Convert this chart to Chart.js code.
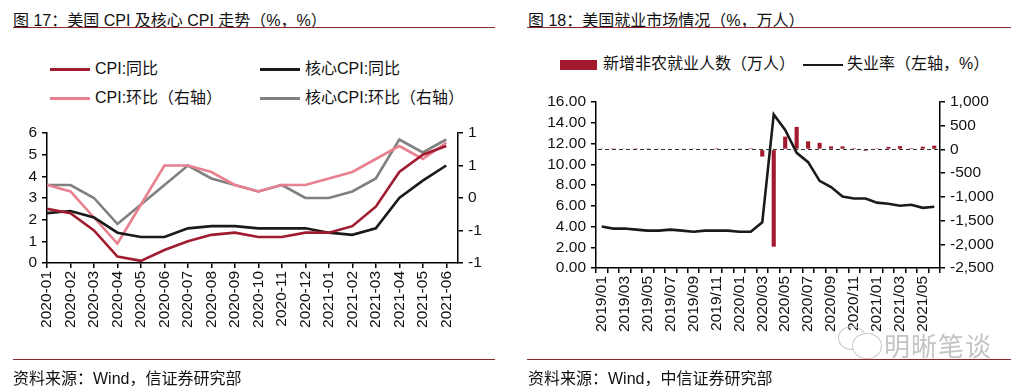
<!DOCTYPE html>
<html>
<head>
<meta charset="utf-8">
<script src="https://cdn.jsdelivr.net/npm/chart.js@4"></script>
<style>
  body { margin: 0; background: #fff; width: 1015px; height: 388px; overflow: hidden; position: relative;
         font-family: 'Liberation Sans', 'Noto Sans CJK SC', sans-serif; color: #111; }
  .abs { position: absolute; white-space: nowrap; }
  .title { font-size: 16px; top: 7px; }
  .rule { position: absolute; height: 1px; background: #8c2a2a; }
  .src { font-size: 16px; top: 365px; }
  .leg { font-size: 16px; line-height: 20px; }
  .sw { display: inline-block; vertical-align: middle; margin-right: 5px; }
  canvas { position: absolute; }
</style>
</head>
<body>
<div class="abs title" style="left:13px">图 17：美国 CPI 及核心 CPI 走势（%，%）</div>
<div class="rule" style="left:13px; width:482px; top:27px"></div>
<div class="abs title" style="left:528px">图 18：美国就业市场情况（%，万人）</div>
<div class="rule" style="left:527px; width:484px; top:27px"></div>

<div id="legendLeft"></div>
<div id="legendRight"></div>

<canvas id="cpiChart" width="500" height="245" style="left:0; top:115px"></canvas>
<canvas id="jobChart" width="510" height="275" style="left:505px; top:85px"></canvas>

<div class="rule" style="left:13px; width:482px; top:359px"></div>
<div class="abs src" style="left:13px">资料来源：Wind，信证券研究部</div>
<div class="rule" style="left:527px; width:484px; top:359px"></div>
<div class="abs src" style="left:528px">资料来源：Wind，中信证券研究部</div>

<!-- watermark -->
<div class="abs" style="left:838px; top:326px; width:26px; height:22px; border:1.5px solid #c8c8c8; border-radius:50%"></div>
<div class="abs" style="left:852px; top:333px; width:28px; height:24px; border:1.5px solid #c8c8c8; border-radius:50%; background:#fff"></div>
<div class="abs" style="left:884px; top:326px; font-size:26px; color:#c4c4c4; letter-spacing:1px">明晰笔谈</div>

<script>
// Chart 17: CPI data
const cpiMonths = ['2020-01','2020-02','2020-03','2020-04','2020-05','2020-06','2020-07','2020-08','2020-09',
                   '2020-10','2020-11','2020-12','2021-01','2021-02','2021-03','2021-04','2021-05','2021-06'];
const cpiYoY  = [2.5, 2.3, 1.5, 0.3, 0.1, 0.6, 1.0, 1.3, 1.4, 1.2, 1.2, 1.4, 1.4, 1.7, 2.6, 4.2, 5.0, 5.4];
const coreYoY = [2.3, 2.4, 2.1, 1.4, 1.2, 1.2, 1.6, 1.7, 1.7, 1.6, 1.6, 1.6, 1.4, 1.3, 1.6, 3.0, 3.8, 4.5];
const cpiMoM  = [0.2, 0.1, -0.3, -0.7, -0.1, 0.5, 0.5, 0.4, 0.2, 0.1, 0.2, 0.2, 0.3, 0.4, 0.6, 0.8, 0.6, 0.85];
const coreMoM = [0.2, 0.2, 0.0, -0.4, -0.1, 0.2, 0.5, 0.3, 0.2, 0.1, 0.2, 0.0, 0.0, 0.1, 0.3, 0.9, 0.7, 0.9];
const cpiNames  = ['CPI:同比', '核心CPI:同比', 'CPI:环比（右轴）', '核心CPI:环比（右轴）'];
const cpiColors = ['#a01b30', '#1a1a1a', '#e8808f', '#808080'];

// Chart 18: jobs data
const jobMonths = ['2019/01','2019/02','2019/03','2019/04','2019/05','2019/06','2019/07','2019/08','2019/09','2019/10',
                   '2019/11','2019/12','2020/01','2020/02','2020/03','2020/04','2020/05','2020/06','2020/07','2020/08',
                   '2020/09','2020/10','2020/11','2020/12','2021/01','2021/02','2021/03','2021/04','2021/05','2021/06'];
const payrolls = [20, 8, 19, 22, 8, 19, 16, 13, 19, 13, 26, 18, 21, 25, -150, -2050, 270, 475, 170, 140,
                  65, 65, 25, -30, 23, 54, 70, 27, 58, 80];
const unemployment = [4.0, 3.8, 3.8, 3.7, 3.6, 3.6, 3.7, 3.6, 3.5, 3.6, 3.6, 3.6, 3.5, 3.5, 4.4, 14.8, 13.3, 11.1, 10.2, 8.4,
                      7.8, 6.9, 6.7, 6.7, 6.3, 6.2, 6.0, 6.1, 5.8, 5.9];
const jobNames = ['新增非农就业人数（万人）', '失业率（左轴，%）'];

Chart.defaults.font.family = "'Liberation Sans', 'Noto Sans CJK SC', sans-serif";
Chart.defaults.color = '#111';
Chart.defaults.animation = false;

// html legends
const legL = document.getElementById('legendLeft');
const legPos = [[50, 59], [260, 59], [50, 88], [260, 88]];
cpiNames.forEach((name, i) => {
    const d = document.createElement('div');
    d.className = 'abs leg';
    d.style.left = legPos[i][0] + 'px';
    d.style.top = legPos[i][1] + 'px';
    d.innerHTML = `<span class="sw" style="width:40px;height:3px;background:${cpiColors[i]}"></span>${name}`;
    legL.appendChild(d);
});
const legR = document.getElementById('legendRight');
[[560, 54, '<span class="sw" style="width:37px;height:10px;background:#a31a2e;margin-right:6px"></span>'],
 [803, 54, '<span class="sw" style="width:40px;height:2.5px;background:#1a1a1a;margin-right:4px"></span>']]
    .forEach((p, i) => {
        const d = document.createElement('div');
        d.className = 'abs leg';
        d.style.left = p[0] + 'px';
        d.style.top = p[1] + 'px';
        d.innerHTML = p[2] + jobNames[i];
        legR.appendChild(d);
    });

const axisFont = { size: 15.5 };
const tickGrid = { drawOnChartArea: false, tickLength: 5, color: '#000', lineWidth: 1.5 };
const blackBorder = { color: '#000', width: 1.5 };

// left chart
const cpiSeries = [cpiYoY, coreYoY, cpiMoM, coreMoM];
new Chart(document.getElementById('cpiChart'), {
    type: 'line',
    data: {
        datasets: cpiSeries.map((arr, k) => ({
            label: cpiNames[k],
            data: arr.map((v, i) => ({ x: i, y: v })),
            yAxisID: k < 2 ? 'y' : 'y1',
            borderColor: cpiColors[k],
            borderWidth: 2.6,
            pointRadius: 0,
            tension: 0
        }))
    },
    options: {
        responsive: false,
        devicePixelRatio: 1,
        layout: { padding: { top: 18, left: 0, right: 0, bottom: 27 } },
        plugins: { legend: { display: false }, tooltip: { enabled: false } },
        scales: {
            x: {
                type: 'linear', min: 0, max: 17.5,
                // one tick per month, the axis runs half a step past the last one
                afterBuildTicks: s => { s.ticks = cpiMonths.map((m, i) => ({ value: i })); },
                afterFit: s => { s.height = 70; },
                ticks: { autoSkip: false, minRotation: 90, maxRotation: 90, padding: 3, font: axisFont,
                         callback: v => cpiMonths[v] ?? '' },
                grid: tickGrid, border: blackBorder
            },
            y: {
                position: 'left', min: 0, max: 6,
                afterFit: s => { s.width = 47; },
                ticks: { stepSize: 1, autoSkip: false, font: axisFont, padding: 5 },
                grid: tickGrid, border: blackBorder
            },
            y1: {
                position: 'right', min: -1, max: 1,
                afterFit: s => { s.width = 42; },
                ticks: { stepSize: 0.5, autoSkip: false, font: axisFont, padding: 5, callback: v => v.toFixed(0) },
                grid: tickGrid, border: blackBorder
            }
        }
    }
});

// dashed zero line for payroll axis
const zeroLine = {
    id: 'zeroLine',
    beforeDatasetsDraw(chart) {
        const { ctx, chartArea } = chart;
        const y = Math.round(chart.scales.y1.getPixelForValue(0)) + 0.5;
        ctx.save();
        ctx.strokeStyle = '#333';
        ctx.lineWidth = 1;
        ctx.setLineDash([4, 3]);
        ctx.beginPath();
        ctx.moveTo(chartArea.left + 2, y);
        ctx.lineTo(chartArea.right, y);
        ctx.stroke();
        ctx.restore();
    }
};

// right chart
new Chart(document.getElementById('jobChart'), {
    type: 'bar',
    data: {
        labels: jobMonths,
        datasets: [
            {
                type: 'line',
                label: jobNames[1],
                data: unemployment,
                yAxisID: 'y',
                borderColor: '#1a1a1a',
                borderWidth: 2.6,
                pointRadius: 0,
                tension: 0,
                order: 0
            },
            {
                type: 'bar',
                label: jobNames[0],
                data: payrolls,
                yAxisID: 'y1',
                backgroundColor: '#a31a2e',
                barPercentage: 0.36,
                categoryPercentage: 1,
                order: 1
            }
        ]
    },
    options: {
        responsive: false,
        devicePixelRatio: 1,
        layout: { padding: { top: 17, left: 0, right: 0, bottom: 20 } },
        plugins: { legend: { display: false }, tooltip: { enabled: false } },
        scales: {
            x: {
                offset: true,
                afterFit: s => { s.height = 72; },
                ticks: { autoSkip: false, minRotation: 90, maxRotation: 90, padding: 3, font: axisFont,
                         callback: (v, i) => i % 2 === 0 ? jobMonths[i] : '' },
                grid: { ...tickGrid, offset: true }, border: blackBorder
            },
            y: {
                position: 'left', min: 0, max: 16,
                afterFit: s => { s.width = 91; },
                ticks: { stepSize: 2, autoSkip: false, font: axisFont, padding: 5, callback: v => v.toFixed(2) },
                grid: tickGrid, border: blackBorder
            },
            y1: {
                position: 'right', min: -2500, max: 1000,
                afterFit: s => { s.width = 75; },
                ticks: { stepSize: 500, autoSkip: false, font: axisFont, padding: 5, callback: v => v.toLocaleString('en-US') },
                grid: tickGrid, border: blackBorder
            }
        }
    },
    plugins: [zeroLine]
});
</script>
</body>
</html>
